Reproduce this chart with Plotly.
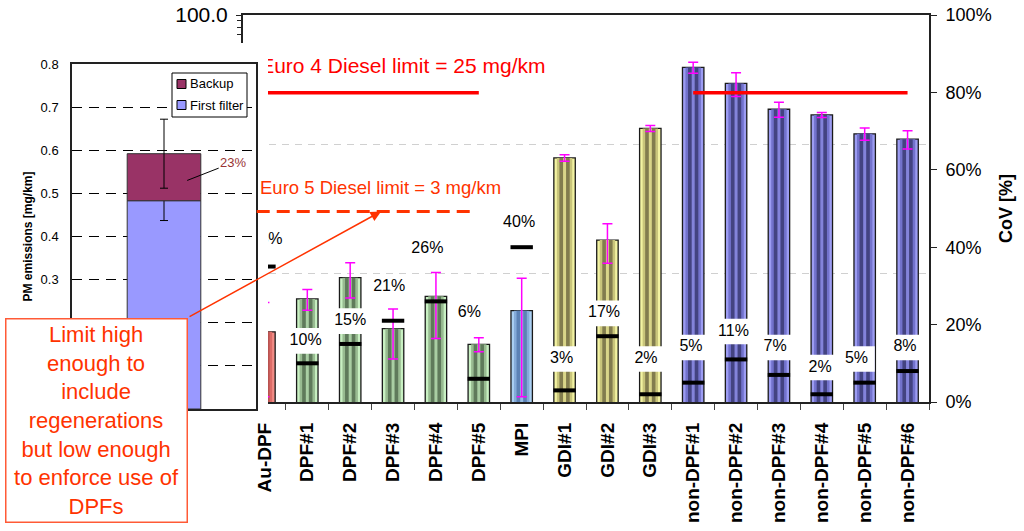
import math
import plotly.graph_objects as go

# ---- data -------------------------------------------------------------
categories = ["Au-DPF", "DPF#1", "DPF#2", "DPF#3", "DPF#4", "DPF#5", "MPI",
              "GDI#1", "GDI#2", "GDI#3",
              "non-DPF#1", "non-DPF#2", "non-DPF#3", "non-DPF#4", "non-DPF#5", "non-DPF#6"]
pm_mean = [0.35, 0.63, 0.92, 0.37, 0.66, 0.28, 0.51,
           7.8, 1.8, 13.2,
           39.2, 29.5, 18.6, 16.8, 12.0, 10.9]          # mg/km
pm_err = [0.24, 0.115, 0.28, 0.155, 0.35, 0.035, 0.40,
          0.46, 0.61, 0.7,
          3.85, 6.15, 2.5, 0.75, 1.3, 1.75]             # mg/km
cov_pct = [35, 10, 15, 21, 26, 6, 40, 3, 17, 2, 5, 11, 7, 2, 5, 8]

# Au-DPF filter breakdown (inset)
inset_first_filter = 0.483
inset_backup = 0.109
inset_first_err = 0.046
inset_total_err = 0.08
inset_ticks = [0.0, 0.1, 0.2, 0.3, 0.4, 0.5, 0.6, 0.7, 0.8]

euro4_limit = 25   # mg/km
euro5_limit = 3    # mg/km

# ---- layout helpers -----------------------------------------------------
W, H = 1024, 531
FONT = "Arial, Liberation Sans, sans-serif"
FIRST_COLOR = "#9999ff"
BACKUP_COLOR = "#993366"


def px(x):
    return x / W


def py(y):
    return 1 - y / H


# label placement for the CoV boxes (height on the CoV axis, x nudge)
label_y = [41.9, 15.8, 20.9, 29.8, 39.5, 22.9, 46.3, 11.1, 22.9, 11.1,
           14.1, 18.2, 14.1, 8.9, 11.1, 14.1]
label_dx = [0.05, -0.04, 0.0, -0.09, -0.2, -0.22, -0.06, -0.07, -0.08, -0.1,
            -0.05, -0.06, -0.09, -0.04, -0.19, -0.06]

# light, mid, dark, centre highlight -> cylinder-like shading
palettes = {
    "au":  ("#f28c86", "#dc6c67", "#b95250", "#e57a75"),
    "dpf": ("#c8f0c2", "#98bb91", "#5f7a5b", "#a9cea3"),
    "mpi": ("#aacff2", "#85abd9", "#5c82b5", "#96bbe2"),
    "gdi": ("#f3f3a2", "#c9c57b", "#827c4e", "#d9d589"),
    "non": ("#9c9cf2", "#7272cc", "#434381", "#8383da"),
}


def family(name):
    if name.startswith("non-DPF"):
        return "non"
    if name.startswith("GDI"):
        return "gdi"
    if name.startswith("MPI"):
        return "mpi"
    if name.startswith("DPF"):
        return "dpf"
    return "au"


idx = list(range(len(categories)))
fig = go.Figure()

# ---- main bars (log scale), built up from stripes --------------------------
stripe_widths = [0.5, 0.36, 0.24, 0.07]
for k, w in enumerate(stripe_widths):
    colors = [palettes[family(c)][k] for c in categories]
    kw = {}
    if k == len(stripe_widths) - 1:
        kw["error_y"] = dict(type="data", array=pm_err, color="#ff00ff",
                             thickness=1.5, width=5)
    fig.add_trace(go.Bar(
        x=idx, y=pm_mean, width=w,
        marker=dict(color=colors,
                    line=dict(width=1.3 if k == 0 else 0, color="#1a1a1a")),
        xaxis="x", yaxis="y", showlegend=False, hoverinfo="skip", **kw))

# Euro 4 limit over the diesel vehicles
i_a, i_b = categories.index("Au-DPF"), categories.index("DPF#5")
i_c, i_d = categories.index("non-DPF#1"), categories.index("non-DPF#6")
fig.add_trace(go.Scatter(
    x=[i_a, i_b, None, i_c, i_d],
    y=[euro4_limit, euro4_limit, None, euro4_limit, euro4_limit],
    mode="lines", line=dict(color="#ff0000", width=3.5),
    xaxis="x", yaxis="y", showlegend=False, hoverinfo="skip"))
fig.add_trace(go.Scatter(
    x=[-0.1], y=[euro4_limit * 1.56], mode="text",
    text=[f"Euro 4 Diesel limit = {euro4_limit} mg/km"],
    textposition="middle right",
    textfont=dict(family=FONT, size=21, color="#ff0000"),
    xaxis="x", yaxis="y", showlegend=False, hoverinfo="skip"))

# ---- CoV overlay ---------------------------------------------------------
fig.add_trace(go.Bar(
    x=[i + d for i, d in zip(idx, label_dx)],
    y=[6.6] * len(idx), base=[v - 3.3 for v in label_y], width=0.85,
    marker=dict(color="white", line=dict(width=0)),
    xaxis="x2", yaxis="y2", showlegend=False, hoverinfo="skip"))
fig.add_trace(go.Scatter(
    x=idx, y=cov_pct, mode="markers",
    marker=dict(symbol="line-ew", size=16, line=dict(width=4, color="black")),
    xaxis="x2", yaxis="y2", showlegend=False, hoverinfo="skip"))
fig.add_trace(go.Scatter(
    x=[i + d for i, d in zip(idx, label_dx)], y=label_y, mode="text",
    text=[f"{c}%" for c in cov_pct], textposition="middle center",
    textfont=dict(family=FONT, size=16, color="black"),
    xaxis="x2", yaxis="y2", showlegend=False, hoverinfo="skip"))

# ---- white panel behind the inset ------------------------------------------
fig.add_trace(go.Scatter(
    x=[0, 1, 1, 0, 0], y=[0, 0, 1, 1, 0], mode="lines", fill="toself",
    fillcolor="white", line=dict(width=0, color="white"),
    xaxis="x3", yaxis="y3", showlegend=False, hoverinfo="skip"))

# ---- inset: Au-DPF first filter / backup -----------------------------------
fig.add_trace(go.Bar(
    x=[0.5], y=[inset_first_filter], width=0.4, name="First filter",
    marker=dict(color=FIRST_COLOR, line=dict(width=1, color="#333333")),
    error_y=dict(type="data", array=[inset_first_err], color="black",
                 thickness=1, width=4),
    xaxis="x4", yaxis="y4", hoverinfo="skip", showlegend=False))
fig.add_trace(go.Bar(
    x=[0.5], y=[inset_backup], base=[inset_first_filter], width=0.4, name="Backup",
    marker=dict(color=BACKUP_COLOR, line=dict(width=1, color="#333333")),
    error_y=dict(type="data", array=[inset_total_err], color="black",
                 thickness=1, width=4),
    xaxis="x4", yaxis="y4", hoverinfo="skip", showlegend=False))

backup_share = round(100 * inset_backup / inset_first_filter)
# the lowest inset labels sit behind the callout box, so they stay blank
inset_ticktext = ["" if v < 0.25 else f"{v:.1f}" for v in inset_ticks]

# compact key for the inset
key_items = [("Backup", BACKUP_COLOR, 84), ("First filter", FIRST_COLOR, 105)]
key_shapes = [dict(type="rect", xref="paper", yref="paper", layer="above",
                   x0=px(172), x1=px(247), y0=py(117), y1=py(73),
                   fillcolor="white", line=dict(color="black", width=1))]
key_notes = []
for name, color, yc in key_items:
    key_shapes.append(dict(type="rect", xref="paper", yref="paper", layer="above",
                           x0=px(177), x1=px(186), y0=py(yc + 4.5), y1=py(yc - 4.5),
                           fillcolor=color, line=dict(color="black", width=1)))
    key_notes.append(dict(xref="paper", yref="paper", x=px(188), y=py(yc),
                          xanchor="left", yanchor="middle", showarrow=False,
                          text=name, font=dict(family=FONT, size=13, color="black")))

minor_log = [m * 10 ** e for e in (-1, 0, 1) for m in range(2, 10)]

fig.update_layout(
    width=W, height=H,
    margin=dict(l=0, r=0, t=0, b=0, autoexpand=False),
    paper_bgcolor="white", plot_bgcolor="white",
    barmode="overlay",
    font=dict(family=FONT, color="black"),
    showlegend=False,
    xaxis=dict(domain=[px(243), px(929)], range=[-0.5, 15.5], anchor="y",
               automargin=False,
               tickmode="array", tickvals=[i - 0.5 for i in range(len(categories) + 1)],
               showticklabels=False, ticks="outside", ticklen=6, tickcolor="#444",
               showline=True, linecolor="#222", linewidth=2, mirror=True,
               showgrid=False, zeroline=False),
    yaxis=dict(domain=[py(402), py(15)], type="log", range=[-1, 2], anchor="x",
               automargin=False,
               tickmode="array", tickvals=[0.1, 1, 10, 100], tickformat=".1f",
               ticks="outside", ticklen=5, tickcolor="#222", tickwidth=1,
               ticklabelstandoff=4,
               minor=dict(tickmode="array", tickvals=minor_log, ticks="outside",
                          ticklen=4, tickcolor="#222", tickwidth=1, showgrid=False),
               tickfont=dict(size=21),
               showline=True, linecolor="#222", linewidth=2,
               showgrid=True, gridcolor="#d0d0d0", griddash="7px,6px", gridwidth=1,
               zeroline=False),
    xaxis2=dict(overlaying="x", range=[-0.5, 15.5], anchor="y2", side="bottom",
                automargin=False,
                tickmode="array", tickvals=idx, ticktext=categories,
                tickangle=-90, ticks="", ticklabelstandoff=16,
                tickfont=dict(size=19, weight="bold"),
                showline=False, showgrid=False, zeroline=False),
    yaxis2=dict(overlaying="y", side="right", anchor="x2", range=[0, 100],
                automargin=False,
                tickmode="linear", tick0=0, dtick=20, ticksuffix="%",
                ticks="outside", ticklen=6, tickcolor="#222",
                ticklabelstandoff=5,
                tickfont=dict(size=18),
                showline=True, linecolor="#222", linewidth=2,
                showgrid=False, zeroline=False,
                title=dict(text="CoV [%]", font=dict(size=18, weight="bold"),
                           standoff=9)),
    xaxis3=dict(domain=[0, px(268)], range=[0, 1], visible=False, anchor="y3",
                automargin=False),
    yaxis3=dict(domain=[py(412), py(43)], range=[0, 1], visible=False, anchor="x3",
                automargin=False),
    xaxis4=dict(domain=[px(72), px(256)], range=[0, 1], anchor="y4",
                automargin=False,
                showticklabels=False, ticks="", showgrid=False, zeroline=False,
                showline=True, linecolor="#222", linewidth=1.5, mirror=True),
    yaxis4=dict(domain=[py(409), py(64)], range=[0, 0.8], anchor="x4",
                automargin=False,
                tickmode="array", tickvals=inset_ticks, ticktext=inset_ticktext,
                ticks="", ticklabelstandoff=9, tickfont=dict(size=13),
                showgrid=True, gridcolor="black", griddash="10px,7px", gridwidth=1,
                showline=True, linecolor="#222", linewidth=1.5, mirror=True,
                zeroline=False,
                title=dict(text="PM emissions [mg/km]",
                           font=dict(size=12, weight="bold"), standoff=5)),
    shapes=[
        dict(type="line", xref="x", yref="y", layer="above",
             x0=-0.18, x1=4.9, y0=euro5_limit, y1=euro5_limit,
             line=dict(color="#ff3300", width=3, dash="13px,7px")),
    ] + key_shapes,
    annotations=[
        dict(xref="x", yref="y", x=-0.15, y=math.log10(euro5_limit), yshift=24,
             xanchor="left", yanchor="middle", showarrow=False,
             text=f"Euro 5 Diesel limit = {euro5_limit} mg/km",
             font=dict(family=FONT, size=18.5, color="#ff3300")),
        dict(xref="x4", yref="y4", x=0.626, y=0.53, ax=46, ay=-18,
             showarrow=True, arrowhead=0, arrowwidth=1, arrowcolor="black",
             text=f"{backup_share}%", font=dict(family=FONT, size=13, color="#993333")),
        dict(xref="x", yref="y", x=2.72, y=math.log10(euro5_limit),
             ax=-193, ay=106, axref="pixel", ayref="pixel", text="",
             showarrow=True, arrowhead=2, arrowsize=1.4, arrowwidth=1.5,
             arrowcolor="#ff3300"),
        dict(xref="paper", yref="paper", x=px(96.5), y=py(420.5),
             xanchor="center", yanchor="middle", showarrow=False,
             text=("Limit high<br>enough to<br>include<br>regenerations<br>"
                   "but low enough<br>to enforce use of<br>DPFs"),
             align="center", width=176, height=198, borderpad=2,
             bgcolor="white", bordercolor="#ff5a36", borderwidth=1.5,
             font=dict(family=FONT, size=22, color="#ff3300")),
    ] + key_notes,
)

fig.write_html("out.html")
